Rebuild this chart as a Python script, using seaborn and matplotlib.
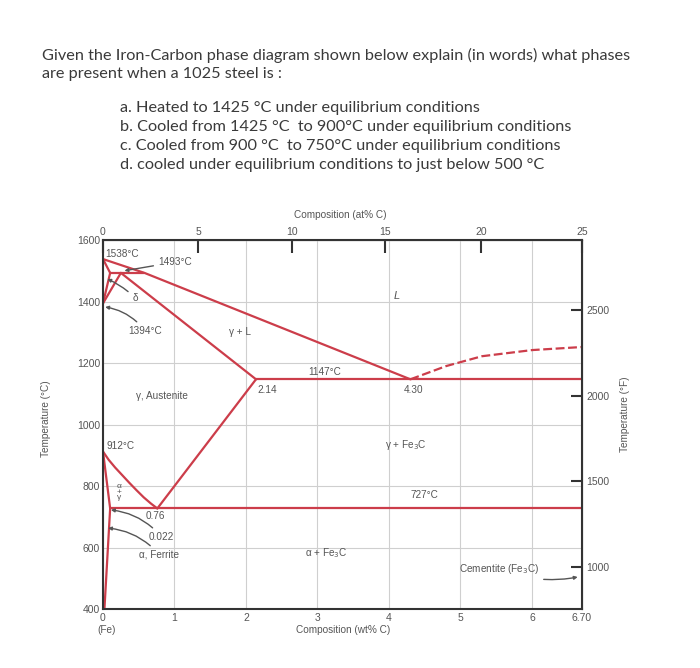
import matplotlib
matplotlib.use('Agg')
import matplotlib.pyplot as plt
import seaborn as sns
import pandas as pd

# --- phase boundaries (composition wt% C, temperature degC) ---
liquidus_c = [0, 0.58, 4.30]
liquidus_t = [1538, 1493, 1147]
delta_sol_c = [0, 0.10]
delta_sol_t = [1538, 1493]
peritectic_c = [0.10, 0.58]
peritectic_t = [1493, 1493]
delta_solvus_c = [0.10, 0]
delta_solvus_t = [1493, 1394]
gamma_delta_c = [0, 0.25]
gamma_delta_t = [1394, 1493]
gamma_sol_c = [0.25, 2.14]
gamma_sol_t = [1493, 1147]
eutectic_c = [2.14, 6.70]
eutectic_t = [1147, 1147]
acm_c = [2.14, 0.76]
acm_t = [1147, 727]
a3_c = [0, 0.08, 0.17, 0.27, 0.37, 0.47, 0.57, 0.67, 0.76]
a3_t = [912, 885, 860, 835, 810, 786, 763, 743, 727]
eutectoid_c = [0.10, 6.70]
eutectoid_t = [727, 727]
alpha_c = [0, 0.10]
alpha_t = [912, 727]
alpha_solvus_c = [0.10, 0.02]
alpha_solvus_t = [727, 400]
# dashed liquidus towards Fe3C
fe3c_liq_c = [4.30, 4.80, 5.30, 6.00, 6.70]
fe3c_liq_t = [1147, 1190, 1222, 1242, 1252]

# axis ticks
wt_ticks = [0, 1, 2, 3, 4, 5, 6, 6.70]
wt_labels = ['0', '1', '2', '3', '4', '5', '6', '6.70']
at_pos = [0, 1.33, 2.64, 3.95, 5.29, 6.70]
at_labels = ['0', '5', '10', '15', '20', '25']
degf_ticks = [1000, 1500, 2000, 2500]

RED = '#cc3d4a'
GREY = '#555555'

segments = [
    (liquidus_c, liquidus_t), (delta_sol_c, delta_sol_t), (peritectic_c, peritectic_t),
    (delta_solvus_c, delta_solvus_t), (gamma_delta_c, gamma_delta_t), (gamma_sol_c, gamma_sol_t),
    (eutectic_c, eutectic_t), (acm_c, acm_t), (a3_c, a3_t), (eutectoid_c, eutectoid_t),
    (alpha_c, alpha_t), (alpha_solvus_c, alpha_solvus_t),
]
rows = []
for i, (cs, ts) in enumerate(segments):
    for c, t in zip(cs, ts):
        rows.append({'seg': i, 'C': c, 'T': t})
df = pd.DataFrame(rows)

sns.set_style('white')
plt.rcParams['font.family'] = ['Liberation Sans', 'DejaVu Sans']

fig = plt.figure(figsize=(7, 6.68), dpi=100)

# question text
q = dict(family='Lato', fontsize=11.7, color='#3a3a3a', va='center')
fig.text(42 / 700, 1 - 55 / 668,
         'Given the Iron-Carbon phase diagram shown below explain (in words) what phases', **q)
fig.text(42 / 700, 1 - 74 / 668, 'are present when a 1025 steel is :', **q)
items = ['a. Heated to 1425 °C under equilibrium conditions',
         'b. Cooled from 1425 °C  to 900°C under equilibrium conditions',
         'c. Cooled from 900 °C  to 750°C under equilibrium conditions',
         'd. cooled under equilibrium conditions to just below 500 °C']
for k, s in enumerate(items):
    fig.text(120 / 700, 1 - (108 + 19 * k) / 668, s, **q)

ax = fig.add_axes([103 / 700, 1 - 609 / 668, 479 / 700, 369 / 668])
sns.lineplot(data=df, x='C', y='T', units='seg', estimator=None, sort=False,
             color=RED, lw=1.6, ax=ax, legend=False)
sns.lineplot(x=fe3c_liq_c, y=fe3c_liq_t, sort=False, color=RED, lw=1.6,
             dashes=False, ax=ax)
ax.lines[-1].set_dashes((4, 1.6))

ax.set_xlim(0, 6.70)
ax.set_ylim(400, 1600)
ax.set_xlabel('')
ax.set_ylabel('')
ax.set_xticks(wt_ticks, labels=wt_labels)
ax.set_yticks(range(400, 1601, 200))
ax.set_yticks(range(500, 1600, 200), minor=True)
ax.tick_params(axis='both', direction='in', colors='#333333', labelcolor=GREY,
               labelsize=7.5, width=1.5)
ax.tick_params(axis='x', length=8, pad=3)
ax.tick_params(axis='y', which='major', length=8, pad=2)
ax.tick_params(axis='y', which='minor', length=5, width=1.5, direction='in', colors='#333333')
ax.grid(True, color='#cfcfcf', lw=0.8)
ax.set_axisbelow(True)
for sp in ax.spines.values():
    sp.set_color('#333333')
    sp.set_linewidth(1.5)

top = ax.secondary_xaxis('top')
top.set_xticks(at_pos, labels=at_labels)
top.tick_params(direction='in', length=9, width=1.5, colors='#333333',
                labelcolor=GREY, labelsize=7.5, pad=2)

right = ax.secondary_yaxis('right', functions=(lambda c: c * 9 / 5 + 32,
                                               lambda f: (f - 32) * 5 / 9))
right.set_yticks(degf_ticks)
right.tick_params(direction='in', length=8, width=1.5, colors='#333333',
                  labelcolor=GREY, labelsize=7.5, pad=3)

# axis titles
lab = dict(fontsize=7.2, color=GREY)
fig.text(46 / 700, 1 - 419 / 668, 'Temperature (°C)', rotation=90, ha='center', va='center', **lab)
fig.text(625 / 700, 1 - 414 / 668, 'Temperature (°F)', rotation=90, ha='center', va='center', **lab)
fig.text(340 / 700, 1 - 215 / 668, 'Composition (at% C)', ha='center', va='center', **lab)
fig.text(343 / 700, 1 - 630 / 668, 'Composition (wt% C)', ha='center', va='center', **lab)
fig.text(107 / 700, 1 - 630 / 668, '(Fe)', ha='center', va='center', **lab)

# region and point labels
FS = 7.2
txt = dict(fontsize=FS, color=GREY, ha='center', va='center')
ax.text(0.03, 1555, '1538°C', **dict(txt, ha='left'))
ax.text(1.91, 1301, 'γ + L', **txt)
ax.text(4.11, 1418, 'L', style='italic', **dict(txt, fontsize=8))
ax.text(3.10, 1171, '1147°C', **txt)
ax.text(2.30, 1113, '2.14', **txt)
ax.text(4.35, 1113, '4.30', **txt)
ax.text(0.82, 1093, 'γ, Austenite', **txt)
ax.text(0.25, 930, '912°C', **txt)
ax.text(0.22, 780, 'α\n+\nγ', linespacing=0.75, **dict(txt, fontsize=6))
ax.text(0.73, 702, '0.76', **txt)
ax.text(4.24, 933, 'γ + Fe$_3$C', **txt)
ax.text(4.49, 771, '727°C', **txt)
ax.text(3.12, 582, 'α + Fe$_3$C', **txt)

arrow = dict(arrowstyle='-|>', color=GREY, lw=1.0, mutation_scale=5, shrinkA=1, shrinkB=0)
ax.annotate('1493°C', xy=(0.30, 1500), xytext=(0.77, 1528), va='center', ha='left',
            fontsize=FS, color=GREY, arrowprops=dict(arrow, connectionstyle='arc3,rad=0'))
ax.annotate('δ', xy=(0.06, 1473), xytext=(0.45, 1411), va='center', ha='center',
            fontsize=FS, color=GREY, arrowprops=dict(arrow, connectionstyle='arc3,rad=0.1'))
ax.annotate('1394°C', xy=(0.03, 1382), xytext=(0.59, 1304), va='center', ha='center',
            fontsize=FS, color=GREY, arrowprops=dict(arrow, connectionstyle='arc3,rad=0.2'))
ax.annotate('0.022', xy=(0.11, 722), xytext=(0.82, 634), va='center', ha='center',
            fontsize=FS, color=GREY, arrowprops=dict(arrow, connectionstyle='arc3,rad=0.2'))
ax.annotate('α, Ferrite', xy=(0.07, 663), xytext=(0.79, 576), va='center', ha='center',
            fontsize=FS, color=GREY, arrowprops=dict(arrow, connectionstyle='arc3,rad=0.2'))
ax.annotate('Cementite (Fe$_3$C)', xy=(6.64, 504), xytext=(5.54, 530), va='center', ha='center',
            fontsize=FS, color=GREY, arrowprops=dict(arrow, connectionstyle='arc3,rad=0.15'))

fig.savefig('out.png', dpi=100)
